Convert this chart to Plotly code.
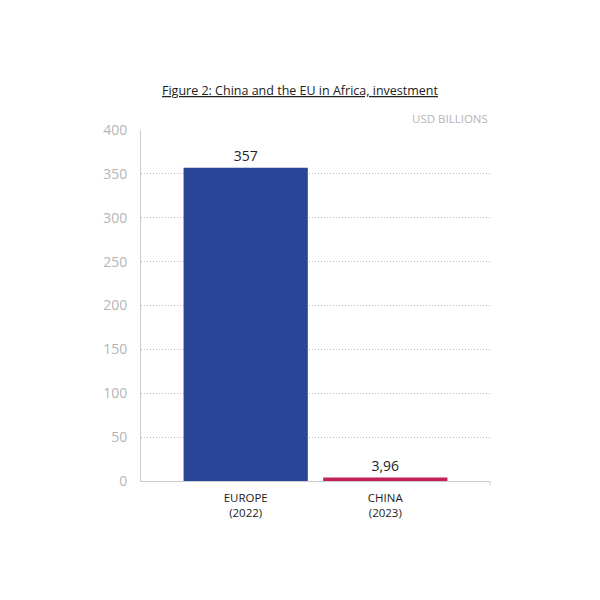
import plotly.graph_objects as go

categories = ["EUROPE<br>(2022)", "CHINA<br>(2023)"]
values = [357, 3.96]
value_labels = ["357", "3,96"]
bar_colors = ["#2A4598", "#C0215A"]
tick_vals = [0, 50, 100, 150, 200, 250, 300, 350, 400]

font_family = "Open Sans, Lato, sans-serif"

fig = go.Figure()
fig.add_trace(go.Bar(
    x=categories,
    y=values,
    marker=dict(color=bar_colors, line=dict(width=0)),
    text=value_labels,
    textposition="outside",
    textfont=dict(size=14, color="#222222", family=font_family),
    cliponaxis=False,
    width=0.89,
))

fig.update_layout(
    width=600, height=600,
    margin=dict(l=133, r=118, t=122, b=127),
    paper_bgcolor="white",
    plot_bgcolor="white",
    showlegend=False,
    font=dict(family=font_family),
    xaxis=dict(
        range=[-0.75, 1.75],
        showgrid=False,
        showline=True, linecolor="#cccccc", linewidth=1,
        tickfont=dict(size=11.5, color="#222222"),
        ticks="", ticklabelstandoff=6, fixedrange=True,
    ),
    yaxis=dict(
        range=[0, 400],
        tickvals=tick_vals,
        showgrid=True, gridcolor="#bcbcbc", griddash="1px,2px", gridwidth=1,
        showline=True, linecolor="#cccccc", linewidth=1,
        zeroline=False,
        tickfont=dict(size=14, color="#b5b5b5"),
        ticks="", ticklen=0, ticklabelstandoff=10,
        fixedrange=True,
    ),
)

# right-end small tick on baseline
fig.add_shape(type="line", xref="paper", yref="paper",
              x0=1, x1=1, y0=0, y1=-0.012,
              line=dict(color="#cccccc", width=1))

# title is centred on the page, not on the plot area
fig.add_annotation(
    xref="paper", yref="paper", x=0.4556, y=1.0, yshift=40,
    text="<u>Figure 2: China and the EU in Africa, investment</u>",
    showarrow=False, xanchor="center", yanchor="middle",
    font=dict(size=12.5, color="#222222"),
)
fig.add_annotation(
    xref="paper", yref="paper", x=1.0, y=1.0, yshift=12,
    text="USD BILLIONS",
    showarrow=False, xanchor="right", yanchor="middle",
    font=dict(size=11.5, color="#b5b5b5"),
)

fig.write_html("out.html")
